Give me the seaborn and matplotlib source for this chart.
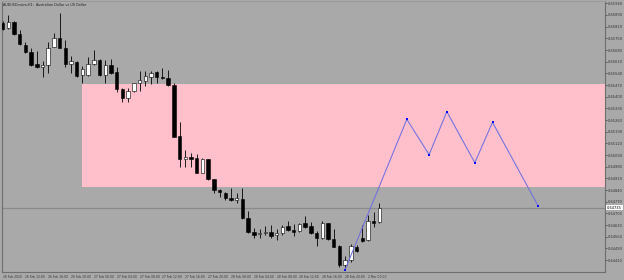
import numpy as np
import pandas as pd
import matplotlib
matplotlib.use("Agg")
import matplotlib.pyplot as plt
import seaborn as sns

# ---------------- data ----------------
title = "AUDUSDmicro,H1:  Australian Dollar vs US Dollar"

opens = [0.65844, 0.65814, 0.65850, 0.65776, 0.65710, 0.65666, 0.65594, 0.65580, 0.65590, 0.65700,
         0.65754, 0.65694, 0.65598, 0.65610, 0.65530, 0.65530, 0.65598, 0.65620, 0.65530, 0.65592,
         0.65548, 0.65444, 0.65392, 0.65436, 0.65482, 0.65494, 0.65520, 0.65546, 0.65516, 0.65512,
         0.65468, 0.65164, 0.65024, 0.65040, 0.65030, 0.64944, 0.65024, 0.64904, 0.64840, 0.64820,
         0.64790, 0.64780, 0.64784, 0.64670, 0.64590, 0.64574, 0.64580, 0.64590, 0.64570, 0.64580,
         0.64624, 0.64600, 0.64596, 0.64640, 0.64624, 0.64584, 0.64550, 0.64640, 0.64544, 0.64504,
         0.64390, 0.64420, 0.64500, 0.64550, 0.64540, 0.64656, 0.64646]
highs = [0.65856, 0.65890, 0.65856, 0.65800, 0.65730, 0.65694, 0.65676, 0.65616, 0.65730, 0.65784,
         0.65900, 0.65740, 0.65644, 0.65614, 0.65584, 0.65636, 0.65680, 0.65624, 0.65620, 0.65624,
         0.65576, 0.65450, 0.65450, 0.65484, 0.65556, 0.65556, 0.65556, 0.65554, 0.65570, 0.65560,
         0.65480, 0.65250, 0.65080, 0.65064, 0.65056, 0.65030, 0.65028, 0.64908, 0.64844, 0.64830,
         0.64854, 0.64820, 0.64850, 0.64716, 0.64610, 0.64604, 0.64624, 0.64630, 0.64604, 0.64630,
         0.64656, 0.64636, 0.64644, 0.64684, 0.64650, 0.64596, 0.64656, 0.64644, 0.64604, 0.64510,
         0.64444, 0.64516, 0.64510, 0.64630, 0.64690, 0.64710, 0.64760]
lows = [0.65800, 0.65804, 0.65772, 0.65710, 0.65660, 0.65586, 0.65574, 0.65520, 0.65544, 0.65696,
        0.65690, 0.65580, 0.65540, 0.65516, 0.65480, 0.65524, 0.65590, 0.65526, 0.65484, 0.65536,
        0.65430, 0.65366, 0.65366, 0.65430, 0.65436, 0.65464, 0.65476, 0.65480, 0.65508, 0.65464,
        0.65156, 0.64980, 0.64980, 0.64980, 0.64940, 0.64940, 0.64900, 0.64824, 0.64800, 0.64780,
        0.64776, 0.64760, 0.64664, 0.64580, 0.64550, 0.64550, 0.64570, 0.64550, 0.64540, 0.64570,
        0.64596, 0.64564, 0.64590, 0.64614, 0.64576, 0.64504, 0.64546, 0.64540, 0.64496, 0.64380,
        0.64363, 0.64410, 0.64470, 0.64530, 0.64536, 0.64620, 0.64640]
closes = [0.65808, 0.65850, 0.65776, 0.65714, 0.65666, 0.65590, 0.65580, 0.65588, 0.65690, 0.65754,
          0.65694, 0.65596, 0.65612, 0.65524, 0.65564, 0.65596, 0.65620, 0.65530, 0.65592, 0.65540,
          0.65444, 0.65392, 0.65434, 0.65480, 0.65498, 0.65522, 0.65544, 0.65516, 0.65512, 0.65468,
          0.65160, 0.65024, 0.65040, 0.65024, 0.64944, 0.65024, 0.64904, 0.64840, 0.64826, 0.64790,
          0.64780, 0.64794, 0.64670, 0.64590, 0.64570, 0.64580, 0.64590, 0.64566, 0.64580, 0.64620,
          0.64600, 0.64590, 0.64636, 0.64620, 0.64580, 0.64550, 0.64640, 0.64544, 0.64500, 0.64390,
          0.64420, 0.64504, 0.64476, 0.64536, 0.64654, 0.64644, 0.64735]

# supply/demand zone
zone_start_bar = 14
zone_top = 0.65476
zone_bottom = 0.64860

# projected path (bar position, price)
path_bars = [60, 70.8, 74.7, 77.8, 82.7, 85.8, 93.8]
path_prices = [0.64363, 0.65264, 0.65052, 0.65310, 0.65004, 0.65246, 0.64744]

# axis labels
price_ticks = [0.65960, 0.65890, 0.65820, 0.65750, 0.65680, 0.65610, 0.65540, 0.65470,
               0.65400, 0.65330, 0.65260, 0.65190, 0.65120, 0.65050, 0.64980, 0.64910,
               0.64840, 0.64770, 0.64700, 0.64630, 0.64560, 0.64490, 0.64420]
time_tick_bars = [0, 4, 8, 12, 16, 20, 24, 28, 32, 36, 40, 44, 48, 52, 56, 60, 64]
time_labels = ["26 Feb 2020", "26 Feb 12:00", "26 Feb 16:00", "26 Feb 20:00", "27 Feb 00:00",
               "27 Feb 04:00", "27 Feb 08:00", "27 Feb 12:00", "27 Feb 16:00", "27 Feb 20:00",
               "28 Feb 00:00", "28 Feb 04:00", "28 Feb 08:00", "28 Feb 12:00", "28 Feb 16:00",
               "28 Feb 20:00", "2 Mar 00:00"]

# ---------------- drawing ----------------
BG = "#a9a9a9"
sns.set_theme(style="white", rc={"axes.facecolor": BG, "figure.facecolor": BG})
plt.rcParams["font.family"] = ["DejaVu Sans"]

fig = plt.figure(figsize=(6.24, 2.8), dpi=100)
ax = fig.add_axes([1.5 / 624, 1 - 271.7 / 280, (605 - 1.5) / 624, (271.7 - 0.7) / 280])
ax.set_facecolor(BG)

xmin, xmax = -0.18, 105.5
ymin, ymax = 0.643498, 0.659758
ax.set_xlim(xmin, xmax)
ax.set_ylim(ymin, ymax)

# zone
ax.fill_between([zone_start_bar, xmax], zone_bottom, zone_top, color="#ffc0cb", lw=0, zorder=1)

# bid line
ax.axhline(closes[-1], color="#8a8a8a", lw=0.9, zorder=2)

# candles
df = pd.DataFrame({"o": opens, "h": highs, "l": lows, "c": closes})
df["bar"] = np.arange(len(df))
ax.vlines(df["bar"], df["l"], df["h"], color="black", lw=0.6, zorder=3)
bull = df["c"] >= df["o"]
bottoms = np.minimum(df["o"], df["c"])
heights = np.maximum(np.abs(df["c"] - df["o"]), 0.000015)
ax.bar(df["bar"], heights, bottom=bottoms, width=0.6,
       color=np.where(bull, "white", "black"), edgecolor="black", linewidth=0.4, zorder=4)

# projection path
pdf = pd.DataFrame({"bar": path_bars, "price": path_prices})
sns.lineplot(data=pdf, x="bar", y="price", color="#7070e0", lw=0.75, sort=False, ax=ax, zorder=5)
sns.scatterplot(data=pdf, x="bar", y="price", color="#0000ff", marker="s", s=3.5, linewidth=0, ax=ax, zorder=6)
ax.set_xlabel("")
ax.set_ylabel("")

# axes styling (MetaTrader look)
for side in ["left", "bottom", "right", "top"]:
    ax.spines[side].set_visible(True)
    ax.spines[side].set_color("#6e6e6e")
    ax.spines[side].set_linewidth(0.8)
ax.spines["top"].set_color("#9a9a9a")

ax.yaxis.tick_right()
ax.set_yticks(price_ticks)
ax.set_yticklabels([f"{p:.5f}" for p in price_ticks], fontsize=2.6, color="#222222")
ax.tick_params(axis="y", direction="out", length=1.5, width=0.5, pad=0.8, colors="#333333")

ax.set_xticks(time_tick_bars)
ax.set_xticklabels(time_labels, fontsize=2.2, color="#222222", ha="left")
ax.tick_params(axis="x", direction="out", length=1.5, width=0.5, pad=1.0, colors="#333333")

# current price label
ax.text(1.003, (closes[-1] - ymin) / (ymax - ymin), f"{closes[-1]:.5f}", transform=ax.transAxes,
        fontsize=2.6, color="black", va="center", ha="left",
        bbox=dict(boxstyle="square,pad=0.25", fc="white", ec="none"))

# title
ax.text(0.003, 0.993, title, transform=ax.transAxes, fontsize=2.4, color="#222222",
        va="top", ha="left")

fig.savefig("out.png", dpi=100, facecolor=BG)
